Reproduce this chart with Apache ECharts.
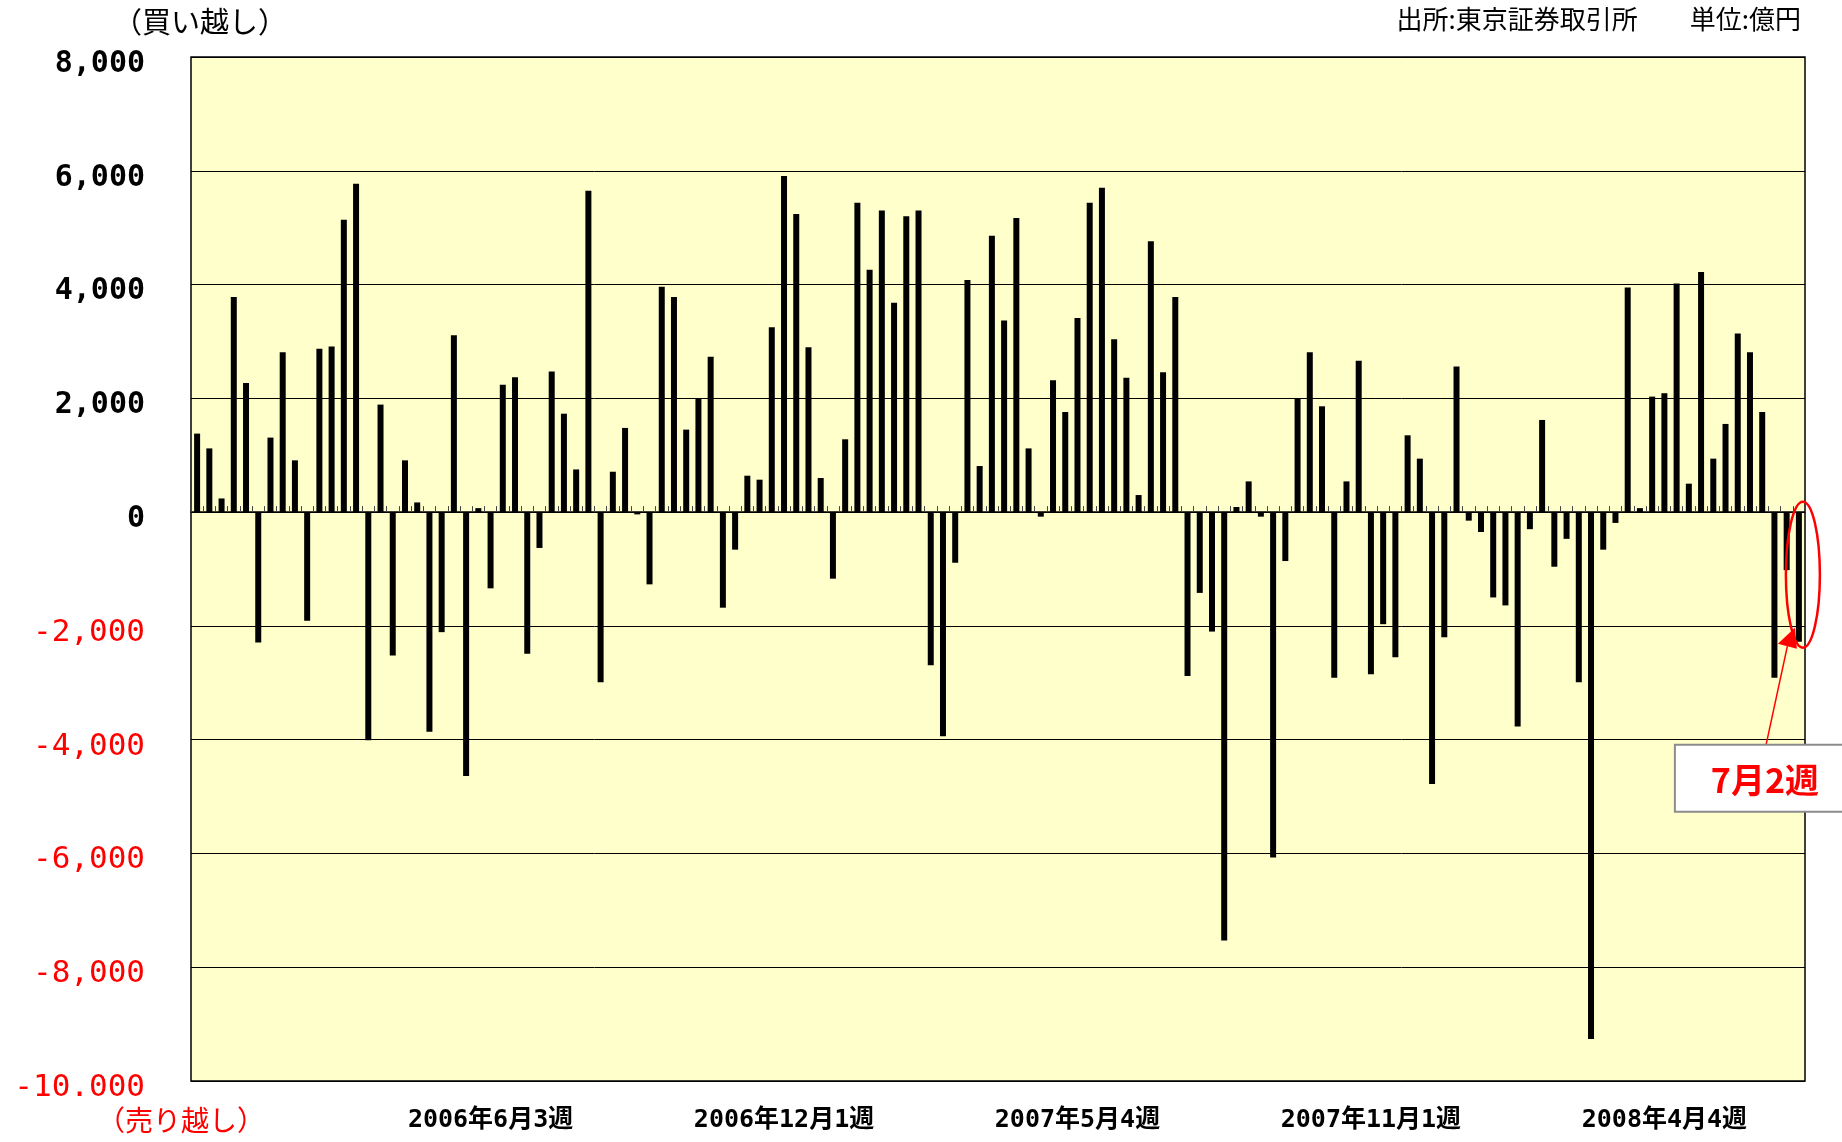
<!DOCTYPE html>
<html>
<head>
<meta charset="utf-8">
<script src="https://cdn.jsdelivr.net/npm/echarts@6/dist/echarts.min.js"></script>
<style>
  html, body { margin: 0; padding: 0; background: #fff; }
  #chart { width: 1842px; height: 1142px; }
</style>
</head>
<body>
<div id="chart"></div>
<script>
// 週次の売買差額（億円）、2006年1月〜2008年7月2週
const values = [
  1380, 1120, 240, 3780, 2270, -2290, 1310, 2810, 910, -1910,
  2870, 2910, 5140, 5770, -4010, 1890, -2520, 910, 170, -3860,
  -2110, 3110, -4640, 70, -1340, 2240, 2370, -2490, -630, 2470,
  1730, 750, 5650, -2990, 710, 1480, -40, -1270, 3960, 3780,
  1450, 2000, 2730, -1680, -660, 640, 570, 3250, 5910, 5240,
  2900, 600, -1170, 1280, 5440, 4260, 5300, 3680, 5200, 5300,
  -2690, -3940, -890, 4080, 810, 4860, 3370, 5170, 1120, -80,
  2320, 1760, 3410, 5440, 5700, 3040, 2360, 300, 4760, 2460,
  3780, -2880, -1420, -2100, -7530, 90, 540, -80, -6070, -860,
  1990, 2810, 1860, -2910, 540, 2660, -2850, -1970, -2550, 1350,
  940, -4780, -2200, 2560, -150, -350, -1500, -1640, -3770, -300,
  1620, -960, -470, -2990, -9260, -660, -190, 3950, 70, 2030,
  2090, 4020, 500, 4220, 940, 1550, 3140, 2810, 1760, -2910,
  -1020, -2280
];
const weekNo = values.map((v, i) => String(i + 1));
const tickIndex = [24, 48, 72, 96, 120];
const tickLabels = ['2006年6月3週', '2006年12月1週', '2007年5月4週', '2007年11月1週', '2008年4月4週'];

const monoFont = "'DejaVu Sans Mono', 'Noto Sans CJK JP', monospace";
const jpFont = "'Noto Sans CJK JP', sans-serif";

const chart = echarts.init(document.getElementById('chart'), null, { renderer: 'canvas' });

const option = {
  animation: false,
  backgroundColor: '#ffffff',
  grid: {
    left: 191, right: 37, top: 57, bottom: 61,
    show: true,
    backgroundColor: '#ffffcc',
    borderColor: '#000000',
    borderWidth: 1.5
  },
  xAxis: [
    {
      // zero line with small ticks
      type: 'category',
      data: weekNo,
      position: 'top',
      axisLine: { onZero: true, lineStyle: { color: '#000', width: 1.5 } },
      axisTick: { show: true, interval: 0, length: 6, inside: false, lineStyle: { color: '#444', width: 1 } },
      axisLabel: { show: false },
      splitLine: { show: false }
    },
    {
      type: 'category',
      data: weekNo,
      position: 'bottom',
      axisLine: { show: false, onZero: false },
      axisTick: { show: false },
      axisLabel: {
        interval: (i) => tickIndex.indexOf(i) >= 0,
        formatter: (v, i) => tickLabels[tickIndex.indexOf(i)] || '',
        margin: 27,
        fontSize: 25,
        fontWeight: 'bold',
        color: '#000',
        fontFamily: monoFont
      }
    }
  ],
  yAxis: {
    type: 'value',
    min: -10000,
    max: 8000,
    interval: 2000,
    axisLine: { show: false },
    axisTick: { show: false },
    splitLine: { lineStyle: { color: '#000', width: 1 } },
    axisLabel: {
      margin: 46,
      padding: [14, 0, 0, 0],
      formatter: (v) => {
        if (v === -10000) return '{n|-10.000}';
        const s = Math.abs(v).toLocaleString('en-US');
        return v < 0 ? '{n|-' + s + '}' : '{p|' + s + '}';
      },
      rich: {
        p: { color: '#000', fontWeight: 'bold', fontSize: 30, fontFamily: monoFont },
        n: { color: '#ff0000', fontWeight: 'normal', fontSize: 31, fontFamily: monoFont }
      }
    }
  },
  series: [{
    type: 'bar',
    data: values,
    barWidth: 6,
    itemStyle: { color: '#000' }
  }]
};

chart.setOption(option);

// 注記（7月2週）
const p = chart.convertToPixel({ xAxisIndex: 0, yAxisIndex: 0 }, [values.length - 1, -1100]);
const cx = p[0] + 4, cy = p[1];

chart.setOption({
  graphic: [
    { type: 'text', left: 113, top: 7,
      style: { text: '（買い越し）', font: '29px ' + jpFont, fill: '#000' } },
    { type: 'text', right: 41, top: 6,
      style: { text: '出所:東京証券取引所　　単位:億円', font: '26px ' + jpFont, fill: '#000' } },
    { type: 'text', left: 97, top: 1106,
      style: { text: '（売り越し）', font: '28px ' + jpFont, fill: '#ff0000' } },
    { type: 'ellipse', z: 100,
      shape: { cx: cx, cy: cy, rx: 17, ry: 73 },
      style: { fill: null, stroke: '#ff0000', lineWidth: 2.5 } },
    { type: 'line', z: 100,
      shape: { x1: cx - 37, y1: cy + 171, x2: cx - 15.5, y2: cy + 71.5 },
      style: { stroke: '#ff0000', lineWidth: 1.5 } },
    { type: 'polygon', z: 100,
      shape: { points: [[cx - 8, cy + 53], [cx - 25, cy + 69], [cx - 6, cy + 74]] },
      style: { fill: '#ff0000' } },
    { type: 'rect', z: 100,
      shape: { x: cx - 128, y: cy + 170, width: 220, height: 67 },
      style: { fill: '#ffffff', stroke: '#8c8c8c', lineWidth: 2 } },
    { type: 'text', z: 101,
      x: cx - 38, y: cy + 205,
      style: { text: '7月2週', font: 'bold 34px ' + jpFont, fill: '#ff0000', align: 'center', verticalAlign: 'middle' } }
  ]
});
</script>
</body>
</html>
